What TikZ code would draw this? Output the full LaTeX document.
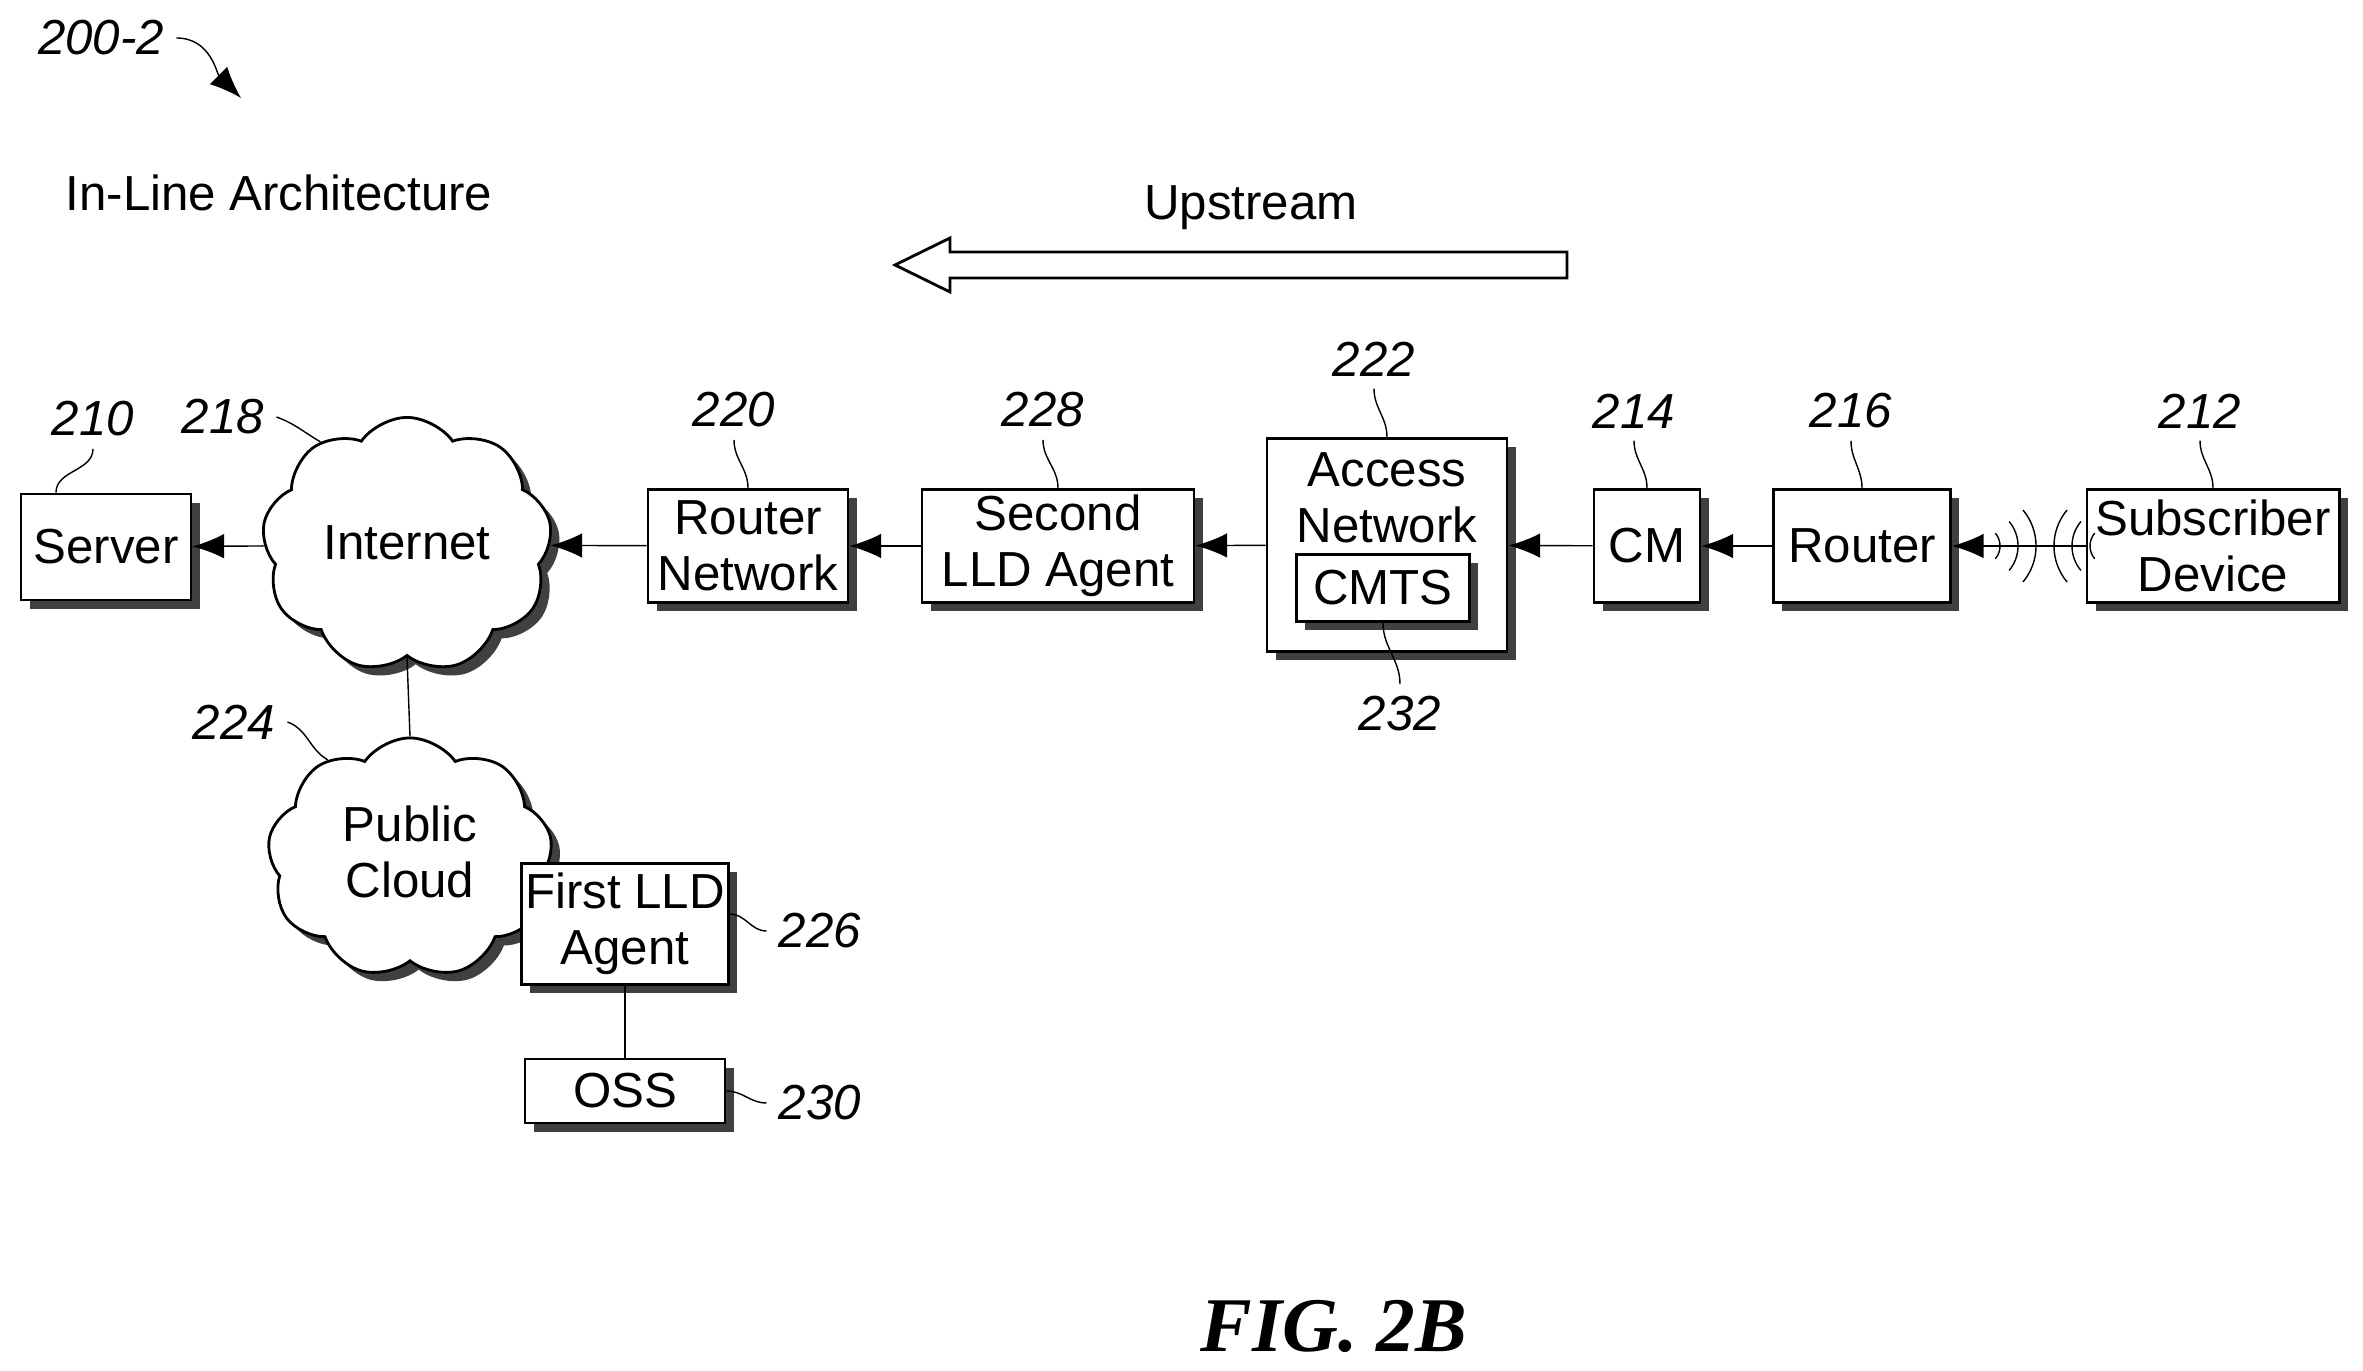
\documentclass[tikz,border=0pt]{standalone}
\usepackage{fontspec}
\setmainfont{Liberation Sans}
\usepackage{tikz}
\usetikzlibrary{arrows.meta,shapes.symbols,shadows,positioning}
\tikzstyle{blok}=[draw=black, fill=white, thick, align=center, inner sep=1pt, font=\fontsize{14}{16}\selectfont,
  drop shadow={shadow xshift=2.5pt, shadow yshift=-2.5pt, fill=black!75, opacity=1}]
\tikzstyle{wolk}=[cloud, cloud puffs=9, cloud puff arc=110, draw=black, fill=white, thick, inner sep=0pt,
  drop shadow={shadow xshift=2.5pt, shadow yshift=-2.5pt, fill=black!75, opacity=1}]
\tikzstyle{tekst}=[align=center, font=\fontsize{14}{16}\selectfont]
\tikzstyle{ref}=[font=\itshape\fontsize{14}{16}\selectfont]
\tikzstyle{lead}=[thin]
\tikzstyle{pijl}=[thin, -{Latex[length=9pt,width=7pt]}]

\begin{document}
\begin{tikzpicture}[x=0.01cm,y=-0.01cm]
			\useasboundingbox (0,0) rectangle (2363,1371);
			\node[ref] (fig) at (101,38) {200-2};
			\coordinate (figend) at (241,98);
			\draw[pijl] (fig.east) to[out=0,in=135] (figend);
			\node[tekst] (title) at (279,193) {In-Line Architecture};
			\node[tekst] (up) at (1251,208) {Upstream};
			\draw[thick] (1567,252) -- (950,252) -- (950,238) -- (895,265) -- (950,292) -- (950,278) -- (1567,278) -- cycle;
			% blocks
			\node[blok, minimum width=1.7cm, minimum height=1.06cm] (server) at (106,547) {Server};
			\node[wolk, minimum width=2.9cm, minimum height=2.55cm] (internet) at (407,545) {};
			\node[tekst] (inttext) at (407,543) {Internet};
			\node[blok, minimum width=2.0cm, minimum height=1.13cm] (rnet) at (748,546) {Router\\Network};
			\node[blok, minimum width=2.72cm, minimum height=1.13cm] (lld2) at (1058,546) {Second\\LLD Agent};
			\node[blok, minimum width=2.4cm, minimum height=2.13cm] (access) at (1387,545) {};
			\node[tekst] (acctext) at (1387,498) {Access\\Network};
			\node[blok, minimum width=1.73cm, minimum height=0.67cm] (cmts) at (1383,588) {CMTS};
			\node[blok, minimum width=1.06cm, minimum height=1.13cm] (cm) at (1647,546) {CM};
			\node[blok, minimum width=1.77cm, minimum height=1.13cm] (router) at (1862,546) {Router};
			\node[blok, minimum width=2.52cm, minimum height=1.13cm] (sub) at (2213,546) {Subscriber\\Device};
			\node[wolk, minimum width=2.85cm, minimum height=2.4cm] (cloud) at (410,858) {};
			\node[tekst] (cloudtext) at (410,852) {Public\\Cloud};
			\node[blok, minimum width=2.0cm, minimum height=1.21cm] (lld1) at (625,924) {First LLD\\Agent};
			\node[blok, minimum width=2.0cm, minimum height=0.64cm] (oss) at (625,1091) {OSS};
			% connectors
			\draw[pijl] (internet) -- (server);
			\draw[pijl] (rnet) -- (internet);
			\draw[pijl] (lld2) -- (rnet);
			\draw[pijl] (access) -- (lld2);
			\draw[pijl] (cm) -- (access);
			\draw[pijl] (router) -- (cm);
			\draw[pijl] (sub) -- (router);
			\draw[thin] (internet.south) -- (cloud.north);
			\draw[thin] (lld1) -- (oss);
			% wireless
			\foreach \r in {0.2,0.38,0.56} {
				\draw[thin] (1980,546) ++(-40:\r cm) arc[start angle=-40, end angle=40, radius=\r cm];
				\draw[thin] (2110,546) ++(220:\r cm) arc[start angle=220, end angle=140, radius=\r cm];
			}
			% reference numerals
			\node[ref] (n210) at (93,419) {210};
			\node[ref] (n218) at (223,417) {218};
			\node[ref] (n220) at (734,410) {220};
			\node[ref] (n228) at (1043,410) {228};
			\node[ref] (n222) at (1374,359) {222};
			\node[ref] (n214) at (1634,411) {214};
			\node[ref] (n216) at (1851,411) {216};
			\node[ref] (n212) at (2200,411) {212};
			\node[ref] (n232) at (1400,714) {232};
			\node[ref] (n224) at (234,722) {224};
			\node[ref] (n226) at (820,931) {226};
			\node[ref] (n230) at (820,1103) {230};
			\draw[lead] (n210.south) to[out=-90,in=90] ([xshift=-0.5cm]server.north);
			\draw[lead] (n218.east) to[out=-20,in=150] (internet.130);
			\draw[lead] (n220.south) to[out=-90,in=90] (rnet.north);
			\draw[lead] (n228.south) to[out=-90,in=90] (lld2.north);
			\draw[lead] (n222.south) to[out=-90,in=90] (access.north);
			\draw[lead] (n214.south) to[out=-90,in=90] (cm.north);
			\draw[lead] (n216.south) to[out=-90,in=90] (router.north);
			\draw[lead] (n212.south) to[out=-90,in=90] (sub.north);
			\draw[lead] (n232.north) to[out=90,in=-90] (cmts.south);
			\draw[lead] (n224.east) to[out=-20,in=150] (cloud.130);
			\draw[lead] (n226.west) to[out=180,in=0] ([yshift=0.1cm]lld1.east);
			\draw[lead] (n230.west) to[out=180,in=0] (oss.east);
			\node[font=\fontsize{22}{24}\selectfont] (cap) at (1334,1326) {\fontspec{Liberation Serif}[]\bfseries\itshape FIG. 2B};
\end{tikzpicture}
\end{document}
